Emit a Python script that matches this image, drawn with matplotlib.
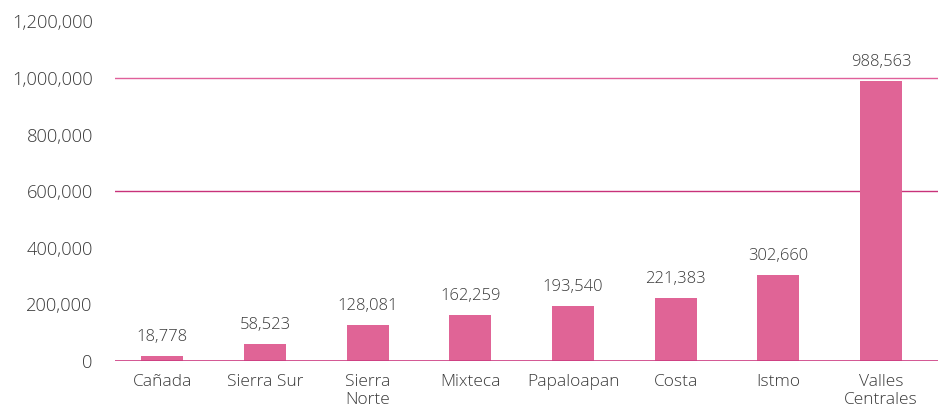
import matplotlib
matplotlib.use("Agg")
import matplotlib.pyplot as plt
from matplotlib.ticker import FuncFormatter

regions = ["Cañada", "Sierra Sur", "Sierra\nNorte", "Mixteca", "Papaloapan",
           "Costa", "Istmo", "Valles\nCentrales"]
population = [18778, 58523, 128081, 162259, 193540, 221383, 302660, 988563]
y_ticks = [0, 200000, 400000, 600000, 800000, 1000000, 1200000]
ref_lines = [600000, 1000000]

plt.rcParams['font.family'] = ['Open Sans', 'DejaVu Sans']
text_color = "#3a3a3a"
bar_color = "#E06496"

fig = plt.figure(figsize=(9.38, 4.13), dpi=100)
ax = fig.add_axes([0.1226, 0.1259, 0.877, 0.870])

x = list(range(len(regions)))
ax.bar(x, population, width=0.41, color=bar_color, zorder=3)

for xi, v in zip(x, population):
    ax.annotate(f"{v:,}", (xi, v), xytext=(0, 8), textcoords="offset points",
                ha="center", va="bottom", fontsize=12, color=text_color,
                fontweight="light")

ax.axhline(0, color="#CC3A80", lw=1.2, zorder=4)
ax.axhline(ref_lines[0], color="#C8327A", lw=1.0, zorder=2)
ax.axhline(ref_lines[1], color="#E0609A", lw=1.0, zorder=2)

ax.set_xlim(-0.46, 7.55)
ax.set_ylim(0, 1270000)
ax.set_yticks(y_ticks)
ax.yaxis.set_major_formatter(FuncFormatter(lambda v, p: f"{int(v):,}"))
ax.set_xticks(x)
ax.set_xticklabels(regions)
ax.tick_params(axis="both", length=0, colors=text_color)
ax.tick_params(axis="y", pad=16, labelsize=13.2)
ax.tick_params(axis="x", pad=9, labelsize=12.5)
for lbl in ax.get_xticklabels() + ax.get_yticklabels():
    lbl.set_fontweight("light")
    lbl.set_linespacing(1.2)

for s in ax.spines.values():
    s.set_visible(False)

fig.savefig("out.png", dpi=100)
